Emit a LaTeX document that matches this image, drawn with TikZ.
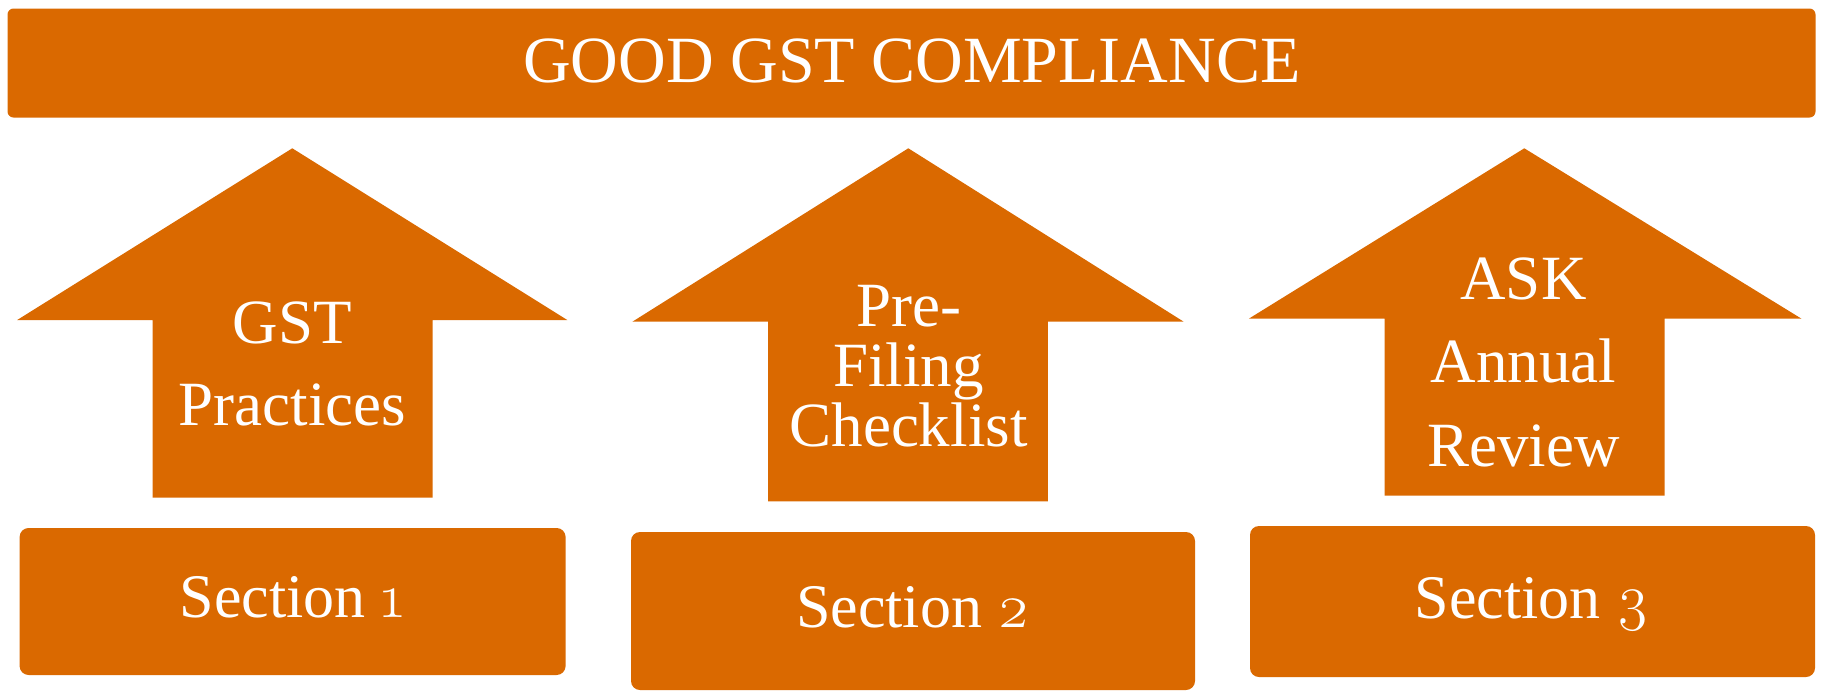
\documentclass[tikz,border=0pt]{standalone}
\usepackage{fontspec}
\setmainfont{Liberation Serif}
\newfontfamily\oldnum{Latin Modern Roman}[Numbers=OldStyle]
\definecolor{gstorange}{RGB}{218,105,0}
\begin{document}
\begin{tikzpicture}[x=1pt,y=-1pt,
  banner/.style={fill=gstorange, draw=none, rounded corners=6pt, inner sep=0pt,
    minimum width=1808pt, minimum height=109pt},
  sectionbox/.style={fill=gstorange, draw=none, rounded corners=9pt, inner sep=0pt},
  uparrow/.style={fill=gstorange, draw=none},
  bannertext/.style={text=white, anchor=base, inner sep=0pt, font=\fontsize{66}{78}\selectfont},
  arrowtext/.style={text=white, anchor=base, inner sep=0pt, font=\fontsize{63}{75}\selectfont},
  sectiontext/.style={text=white, anchor=base, inner sep=0pt, font=\fontsize{62}{74}\selectfont}]
\useasboundingbox (0,0) rectangle (1821,691);

% heading bar
\node[banner] (head) at (911.5,63) {};
\node[bannertext] (headtxt) at (912,82.7) {GOOD GST COMPLIANCE};

% three block arrows pointing up
\fill[uparrow] (292.3,148.3) -- (567.3,320) -- (432.6,320) -- (432.6,497.7)
  -- (152.6,497.7) -- (152.6,320) -- (17.2,320) -- cycle;
\fill[uparrow] (908.3,148.3) -- (1183.7,321.7) -- (1047.9,321.7) -- (1047.9,501.3)
  -- (768,501.3) -- (768,321.7) -- (632.4,321.7) -- cycle;
\fill[uparrow] (1524.3,148.3) -- (1801.5,318.7) -- (1664.5,318.7) -- (1664.5,495.7)
  -- (1384.5,495.7) -- (1384.5,318.7) -- (1248.8,318.7) -- cycle;

% arrow labels
\node[arrowtext] (a1l1) at (292.5,343.3) {GST};
\node[arrowtext] (a1l2) at (292.5,425.7) {Practices};

\node[arrowtext] (a2l1) at (908.5,326) {Pre-};
\node[arrowtext] (a2l2) at (908.5,386) {Filing};
\node[arrowtext] (a2l3) at (908.5,446) {Checklist};

\node[arrowtext] (a3l1) at (1523.5,299.3) {ASK};
\node[arrowtext] (a3l2) at (1523.5,382.3) {Annual};
\node[arrowtext] (a3l3) at (1523.5,466.7) {Review};

% section boxes
\node[sectionbox, minimum width=546pt, minimum height=147pt] (s1) at (292.6,601.5) {};
\node[sectionbox, minimum width=564pt, minimum height=158pt] (s2) at (913,611) {};
\node[sectionbox, minimum width=565pt, minimum height=151pt] (s3) at (1532.5,601.5) {};

\node[sectiontext] (s1txt) at (292,617.3) {Section {\oldnum 1}};
\node[sectiontext] (s2txt) at (913,627.7) {Section {\oldnum 2}};
\node[sectiontext] (s3txt) at (1532,618) {Section {\oldnum 3}};
\end{tikzpicture}
\end{document}
